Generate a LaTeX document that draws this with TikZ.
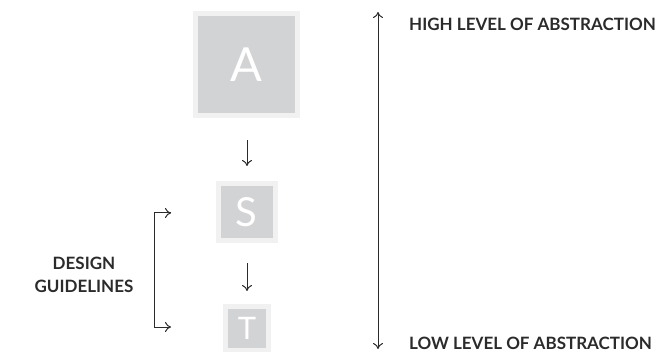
\documentclass[tikz,border=0pt]{standalone}
\usepackage{fontspec}
\setmainfont{Lato}
\usetikzlibrary{arrows.meta}
\definecolor{boxfill}{HTML}{D2D3D5}
\definecolor{boxrim}{HTML}{F1F1F2}
\definecolor{ink}{HTML}{2B2B2B}
\begin{document}
\begin{tikzpicture}[x=1pt,y=-1pt,
  letterbox/.style={fill=boxfill,draw=boxrim,line width=5pt,inner sep=0pt,text=white},
  conn/.style={draw=ink,line width=1pt,-{To[length=6pt,width=10pt]}},
  lab/.style={font=\bfseries\fontsize{17}{20}\selectfont,text=ink,inner sep=0pt}]
\useasboundingbox (0,0) rectangle (658,352);
\node[letterbox,minimum size=102pt,font=\fontsize{47}{50}\selectfont] (A) at (246.5,65) {A};
\node[letterbox,minimum size=57pt,font=\fontsize{40}{42}\selectfont] (S) at (246.5,212.5) {S};
\node[letterbox,minimum size=43pt,font=\fontsize{31}{34}\selectfont] (T) at (247,328.5) {T};
\draw[conn] (247,140) -- (247,166);
\draw[conn] (247,263) -- (247,291);
\coordinate (b1) at (154,213);
\coordinate (b2) at (154,327);
\coordinate (b1e) at (171,213);
\coordinate (b2e) at (171,327);
\draw[conn] (b1e) -- (b1) -- (b2) -- (b2e);
\draw[conn] (b1) -- (b1e);
\node[lab,align=center] (dg) at (84,275) {DESIGN\\[3pt]GUIDELINES};
\coordinate (top) at (378,12);
\coordinate (bot) at (378,349);
\draw[draw=ink,line width=1pt,{To[length=6pt,width=10pt]}-{To[length=6pt,width=10pt]}] (top) -- (bot);
\node[lab,anchor=west] (hi) at (409,24) {HIGH LEVEL OF ABSTRACTION};
\node[lab,anchor=west] (lo) at (409,343) {LOW LEVEL OF ABSTRACTION};
\end{tikzpicture}
\end{document}
